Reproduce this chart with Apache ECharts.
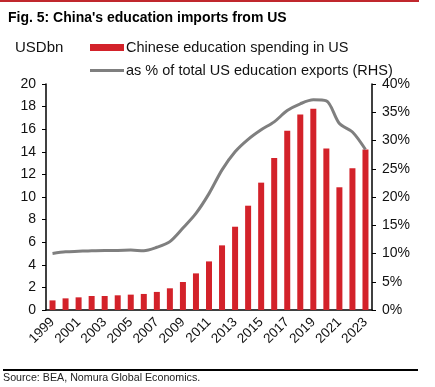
<!DOCTYPE html>
<html><head><meta charset="utf-8">
<script src="https://cdn.jsdelivr.net/npm/echarts@6/dist/echarts.min.js"></script>
<style>html,body{margin:0;padding:0;background:#fff}#c{width:435px;height:387px}</style>
</head><body><div id="c"></div>
<script>
var years = ['1999','2000','2001','2002','2003','2004','2005','2006','2007','2008','2009','2010','2011','2012','2013','2014','2015','2016','2017','2018','2019','2020','2021','2022','2023'];
var spending = [0.85,1.03,1.12,1.24,1.24,1.3,1.36,1.42,1.6,1.92,2.48,3.24,4.3,5.72,7.37,9.23,11.27,13.45,15.87,17.3,17.8,14.3,10.86,12.54,14.2];
var sharePct = [10.0,10.3,10.4,10.5,10.55,10.55,10.6,10.5,11.1,12.1,14.5,17.1,20.6,24.8,28.0,30.2,31.9,33.3,35.3,36.5,37.2,37.0,33.0,31.5,28.4];
var leftTicks = {min:0, max:20, interval:2};
var rightTicks = {min:0, max:40, interval:5};
var FONT = '"Liberation Sans", Arial, sans-serif';
var chart = echarts.init(document.getElementById('c'));
chart.setOption({
  animation:false,
  textStyle:{fontFamily:FONT},
  title:{text:"Fig. 5: China's education imports from US", left:3, top:6,
    textStyle:{fontSize:14, fontWeight:'bold', color:'#000', fontFamily:FONT}},
  legend:[
    {data:['Chinese education spending in US'], left:90, top:40, padding:0, itemWidth:34, itemHeight:7, icon:'rect',
      textStyle:{fontSize:14.5, color:'#111', fontFamily:FONT, padding:[0,0,0,-3]}},
    {data:['as % of total US education exports (RHS)'], left:90, top:63, padding:0, itemWidth:34, itemHeight:3, icon:'rect',
      textStyle:{fontSize:14.5, color:'#111', fontFamily:FONT, padding:[0,0,0,-3]}}
  ],
  grid:{left:46, right:63, top:84, bottom:77, containLabel:false},
  xAxis:{type:'category', data:years, boundaryGap:true,
    axisLine:{lineStyle:{color:'#000', width:1.5}},
    axisTick:{interval:1, length:4, lineStyle:{color:'#000'}},
    axisLabel:{interval:1, rotate:45, fontSize:13.5, color:'#111', margin:10, fontFamily:FONT}},
  yAxis:[
    {type:'value', min:leftTicks.min, max:leftTicks.max, interval:leftTicks.interval, splitLine:{show:false},
      axisLine:{show:true, lineStyle:{color:'#000', width:1.5}},
      axisTick:{show:true, length:4, lineStyle:{color:'#000'}},
      axisLabel:{fontSize:14, color:'#111', margin:10, fontFamily:FONT}},
    {type:'value', min:rightTicks.min, max:rightTicks.max, interval:rightTicks.interval, splitLine:{show:false}, position:'right',
      axisLine:{show:true, lineStyle:{color:'#000', width:1.5}},
      axisTick:{show:true, length:4, lineStyle:{color:'#000'}},
      axisLabel:{fontSize:14, color:'#111', margin:10, formatter:'{value}%', fontFamily:FONT}}
  ],
  series:[
    {name:'Chinese education spending in US', type:'bar', data:spending, barWidth:6, itemStyle:{color:'#d3222a'}},
    {name:'as % of total US education exports (RHS)', type:'line', yAxisIndex:1, data:sharePct, smooth:0.3, symbol:'none',
      lineStyle:{color:'#7f7f7f', width:3}, itemStyle:{color:'#7f7f7f'}}
  ],
  graphic:[
    {type:'rect', shape:{x:0, y:0, width:419, height:2}, style:{fill:'#c0272d'}},
    {type:'text', left:15, top:40, style:{text:'USDbn', font:'15px '+FONT, fill:'#111'}},
    {type:'rect', shape:{x:3, y:369, width:415, height:2}, style:{fill:'#000'}},
    {type:'text', left:3, top:373, style:{text:'Source: BEA, Nomura Global Economics.', font:'10.7px '+FONT, fill:'#222'}}
  ]
});
</script></body></html>
